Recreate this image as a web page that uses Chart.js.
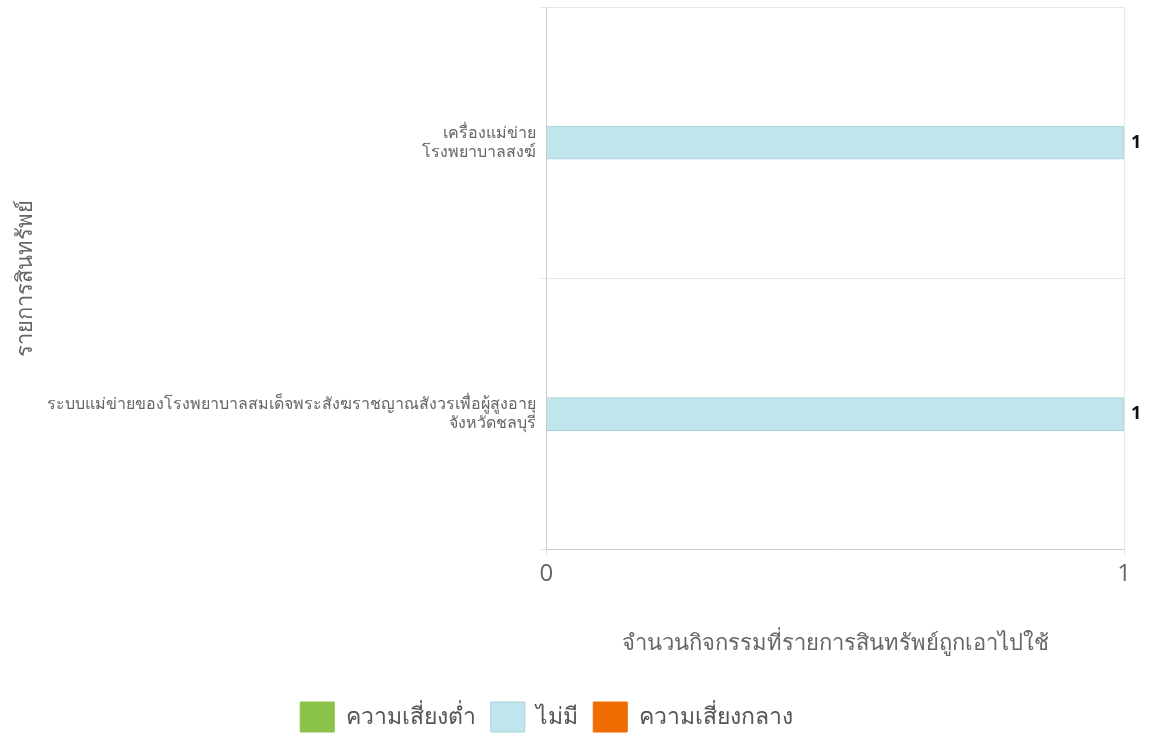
<!DOCTYPE html>
<html>
<head>
<meta charset="utf-8">
<script src="https://cdn.jsdelivr.net/npm/chart.js@4.4.1/dist/chart.umd.min.js"></script>
<style>
  html, body { margin: 0; padding: 0; background: #fff; }
  #wrap { width: 1152px; height: 735px; position: relative; }
</style>
</head>
<body>
<div id="wrap"><canvas id="c"></canvas></div>
<script>
// Assets (categories) and counts per risk level
const assets = [
  ["เครื่องแม่ข่าย", "โรงพยาบาลสงฆ์"],
  ["ระบบแม่ข่ายของโรงพยาบาลสมเด็จพระสังฆราชญาณสังวรเพื่อผู้สูงอายุ", "จังหวัดชลบุรี"],
];
const lowRisk = [0, 0];
const noRisk = [1, 1];
const mediumRisk = [0, 0];
const xTicks = [0, 1];

const thaiFont = "'Noto Sans', 'DejaVu Serif', serif";

// draws the bold total at the end of each non-empty bar
const endLabels = {
  id: "endLabels",
  afterDatasetsDraw(chart) {
    const { ctx } = chart;
    ctx.save();
    ctx.font = "bold 18px 'Open Sans', sans-serif";
    ctx.fillStyle = "#111";
    ctx.textBaseline = "middle";
    chart.data.datasets.forEach((ds, i) => {
      const meta = chart.getDatasetMeta(i);
      meta.data.forEach((bar, j) => {
        if (!ds.data[j]) return;
        ctx.fillText(String(ds.data[j]), bar.x + 7, bar.y);
      });
    });
    ctx.restore();
  },
};

// legend in the original sits a bit left of the canvas centre
const legendShift = {
  id: "legendShift",
  afterLayout(chart) {
    if (chart.legend) chart.legend.right -= 44;
  },
};

new Chart(document.getElementById("c"), {
  type: "bar",
  data: {
    labels: assets,
    datasets: [
      { label: "ความเสี่ยงต่ำ", data: lowRisk, backgroundColor: "#8bc34a", borderColor: "#8bc34a", borderWidth: 1 },
      { label: "ไม่มี", data: noRisk, backgroundColor: "#c0e5ec", borderColor: "#a9d3dc", borderWidth: 1 },
      { label: "ความเสี่ยงกลาง", data: mediumRisk, backgroundColor: "#ef6c00", borderColor: "#ef6c00", borderWidth: 1 },
    ],
  },
  options: {
    indexAxis: "y",
    responsive: true,
    maintainAspectRatio: false,
    animation: false,
    layout: { padding: { top: 7, right: 28, left: 13, bottom: -7 } },
    datasets: { bar: { barThickness: 33 } },
    plugins: {
      legend: {
        position: "bottom",
        labels: {
          boxWidth: 34,
          boxHeight: 30,
          padding: 15,
          color: "#555",
          font: { family: thaiFont, size: 23 },
        },
      },
      tooltip: { enabled: false },
    },
    scales: {
      x: {
        stacked: true,
        min: 0,
        max: 1,
        afterBuildTicks: (axis) => { axis.ticks = xTicks.map((v) => ({ value: v })); },
        ticks: { color: "#666", font: { family: "'Open Sans', sans-serif", size: 24 }, padding: 4 },
        grid: { color: "#e6e6e6", drawTicks: true, tickLength: 6 },
        border: { color: "#ccc" },
        title: {
          display: true,
          text: "จำนวนกิจกรรมที่รายการสินทรัพย์ถูกเอาไปใช้",
          color: "#666",
          font: { family: thaiFont, size: 22 },
          padding: { top: 38, bottom: 30 },
        },
      },
      y: {
        stacked: true,
        afterFit: (axis) => { axis.paddingTop = 0; axis.paddingBottom = 0; },
        ticks: { color: "#666", font: { family: thaiFont, size: 16 }, padding: 4 },
        grid: { color: "#e6e6e6", offset: true, drawTicks: true, tickLength: 6 },
        border: { color: "#ccc" },
        title: {
          display: true,
          text: "รายการสินทรัพย์",
          color: "#666",
          font: { family: thaiFont, size: 22 },
          padding: { top: 0, bottom: 4 },
        },
      },
    },
  },
  plugins: [endLabels, legendShift],
});
</script>
</body>
</html>
